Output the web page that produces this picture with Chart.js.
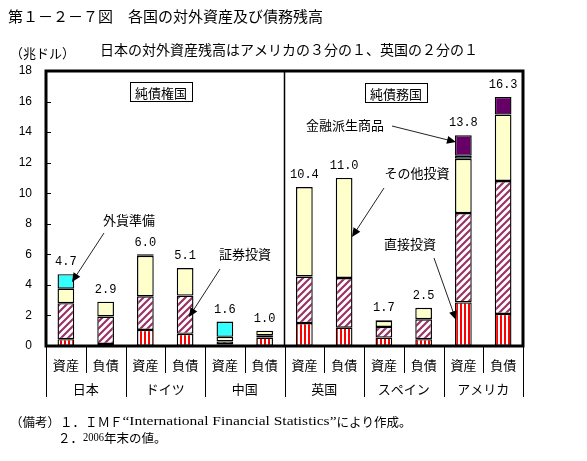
<!DOCTYPE html>
<html>
<head>
<meta charset="utf-8">
<script src="https://cdn.jsdelivr.net/npm/chart.js@4.4.1/dist/chart.umd.min.js"></script>
<style>
  body { margin: 0; background: #fff; }
</style>
</head>
<body>
<canvas id="myChart" width="587" height="461"></canvas>
<script>
// 12 bars: asset / liability for each country
const bars = ['資産', '負債', '資産', '負債', '資産', '負債', '資産', '負債', '資産', '負債', '資産', '負債'];
const countries = ['日本', 'ドイツ', '中国', '英国', 'スペイン', 'アメリカ'];
const totals = ['4.7', '2.9', '6.0', '5.1', '1.6', '1.0', '10.4', '11.0', '1.7', '2.5', '13.8', '16.3'];
const totalValues = [4.7, 2.9, 6.0, 5.1, 1.6, 1.0, 10.4, 11.0, 1.7, 2.5, 13.8, 16.3];

// trillion dollars, stacked from bottom
const direct      = [0.45, 0.13, 1.05, 0.8, 0.1, 0.55, 1.5, 1.2, 0.55, 0.45, 2.85, 2.1];
const portfolio   = [2.35, 1.8, 2.2, 2.5, 0.2, 0.15, 3.05, 3.25, 0.7, 1.3, 5.85, 8.7];
const other       = [0.95, 0.97, 2.65, 1.8, 0.3, 0.3, 5.85, 6.55, 0.4, 0.75, 3.55, 4.35];
const reserves    = [0.95, null, 0.1, null, 1.0, null, null, null, 0.05, null, 0.2, null];
const derivatives = [null, null, null, null, null, null, null, null, null, null, 1.35, 1.15];

const yTicks = [0, 2, 4, 6, 8, 10, 12, 14, 16, 18];

const JP = '"Noto Sans CJK JP", sans-serif';
const MONO = '"Liberation Mono", monospace';
const SERIF = '"Liberation Serif", serif';

function stripePattern() {
  const c = document.createElement('canvas');
  c.width = 4; c.height = 4;
  const g = c.getContext('2d');
  g.fillStyle = '#fff';
  g.fillRect(0, 0, 4, 4);
  g.fillStyle = '#ff0000';
  g.fillRect(0, 0, 2, 4);
  return g.createPattern(c, 'repeat');
}

function hatchPattern() {
  const c = document.createElement('canvas');
  c.width = 7; c.height = 7;
  const g = c.getContext('2d');
  g.fillStyle = '#fff';
  g.fillRect(0, 0, 7, 7);
  g.strokeStyle = '#993366';
  g.lineWidth = 2.2;
  g.beginPath();
  g.moveTo(-1, 8); g.lineTo(8, -1);
  g.moveTo(-4, 4); g.lineTo(4, -4);
  g.moveTo(3, 11); g.lineTo(11, 3);
  g.stroke();
  return g.createPattern(c, 'repeat');
}

function arrow(ctx, x1, y1, x2, y2) {
  const a = Math.atan2(y2 - y1, x2 - x1);
  ctx.strokeStyle = '#222';
  ctx.fillStyle = '#000';
  ctx.lineWidth = 1;
  ctx.beginPath();
  ctx.moveTo(x1, y1);
  ctx.lineTo(x2 - 6 * Math.cos(a), y2 - 6 * Math.sin(a));
  ctx.stroke();
  ctx.beginPath();
  ctx.moveTo(x2, y2);
  ctx.lineTo(x2 - 9 * Math.cos(a) + 4 * Math.sin(a), y2 - 9 * Math.sin(a) - 4 * Math.cos(a));
  ctx.lineTo(x2 - 9 * Math.cos(a) - 4 * Math.sin(a), y2 - 9 * Math.sin(a) + 4 * Math.cos(a));
  ctx.closePath();
  ctx.fill();
}

function boxLabel(ctx, text, cx, cy) {
  ctx.font = '13px ' + JP;
  const w = ctx.measureText(text).width + 10;
  ctx.fillStyle = '#fff';
  ctx.fillRect(cx - w / 2, cy - 10, w, 20);
  ctx.strokeStyle = '#000';
  ctx.lineWidth = 1;
  ctx.strokeRect(Math.round(cx - w / 2) + 0.5, cy - 9.5, Math.round(w), 19);
  ctx.fillStyle = '#000';
  ctx.fillText(text, cx, cy + 1);
}

// writes pieces one after another, each in its own font (optionally stretched to a width)
function textRun(ctx, parts, x, y) {
  parts.forEach(([s, f, fitW]) => {
    ctx.font = f;
    const w = ctx.measureText(s).width;
    if (fitW) {
      ctx.save();
      ctx.translate(x, y);
      ctx.scale(fitW / w, 1);
      ctx.fillText(s, 0, 0);
      ctx.restore();
      x += fitW;
    } else {
      ctx.fillText(s, x, y);
      x += w;
    }
  });
}

const decorations = {
  id: 'decorations',
  afterDraw(chart) {
    const ctx = chart.ctx;
    const area = chart.chartArea;
    const x = chart.scales.x;
    const y = chart.scales.y;
    const catW = (area.right - area.left) / bars.length;
    ctx.save();
    ctx.textAlign = 'center';
    ctx.textBaseline = 'middle';

    // frame and divider between creditor / debtor countries
    ctx.strokeStyle = '#000';
    ctx.lineWidth = 3;
    ctx.strokeRect(area.left, area.top, area.right - area.left, area.bottom - area.top);
    ctx.lineWidth = 1.5;
    ctx.beginPath();
    ctx.moveTo(area.left + catW * 6, area.top);
    ctx.lineTo(area.left + catW * 6, area.bottom);
    ctx.stroke();

    // inner tick marks
    ctx.lineWidth = 1;
    yTicks.forEach(t => {
      const py = Math.round(y.getPixelForValue(t)) + 0.5;
      ctx.beginPath();
      ctx.moveTo(area.left, py);
      ctx.lineTo(area.left + 5, py);
      ctx.stroke();
    });

    // x axis labels and separators
    for (let k = 0; k <= bars.length; k++) {
      const px = Math.round(area.left + catW * k) + 0.5;
      ctx.beginPath();
      ctx.moveTo(px, area.bottom);
      ctx.lineTo(px, k % 2 === 0 ? 397 : 373);
      ctx.stroke();
    }
    ctx.fillStyle = '#000';
    ctx.font = '13px ' + JP;
    bars.forEach((b, i) => ctx.fillText(b, x.getPixelForValue(i), 365));
    countries.forEach((c, i) => ctx.fillText(c, area.left + catW * (2 * i + 1), 389));

    // totals above bars
    ctx.font = '12px ' + MONO;
    totals.forEach((t, i) => ctx.fillText(t, x.getPixelForValue(i), y.getPixelForValue(totalValues[i]) - 12));

    // annotations
    boxLabel(ctx, '純債権国', 161, 92);
    boxLabel(ctx, '純債務国', 396, 93);
    ctx.font = '13px ' + JP;
    ctx.fillStyle = '#000';
    ctx.fillText('外貨準備', 129, 220);
    ctx.fillText('証券投資', 245, 254);
    ctx.fillText('金融派生商品', 345, 125);
    ctx.fillText('その他投資', 417, 173);
    ctx.fillText('直接投資', 410, 244);
    arrow(ctx, 104, 233, 72, 282);
    arrow(ctx, 220, 269, 189, 317);
    arrow(ctx, 392, 126, 456, 142);
    arrow(ctx, 384, 188, 352, 237);
    arrow(ctx, 434, 258, 456, 320);

    // titles and notes
    ctx.textAlign = 'left';
    ctx.fillStyle = '#000';
    ctx.font = '15px ' + JP;
    ctx.fillText('第１－２－７図　各国の対外資産及び債務残高', 8, 16);
    ctx.font = '14px ' + JP;
    ctx.fillText('日本の対外資産残高はアメリカの３分の１、英国の２分の１', 100, 50);
    ctx.font = '13px ' + JP;
    ctx.fillText('（兆ドル）', 10, 53);
    textRun(ctx, [
      ['（備考）１．ＩＭＦ', '12.5px ' + JP],
      ['“International Financial Statistics”', '13px ' + SERIF, 214],
      ['により作成。', '12.5px ' + JP]
    ], 10, 422);
    textRun(ctx, [
      ['２．', '12.5px ' + JP],
      ['2006', '12px ' + SERIF, 21],
      ['年末の値。', '12.5px ' + JP]
    ], 58, 438);
    ctx.restore();
  }
};

const common = { borderColor: '#000', borderWidth: 1.4, borderSkipped: false, barPercentage: 0.42, categoryPercentage: 1 };

const chart = new Chart(document.getElementById('myChart'), {
  type: 'bar',
  data: {
    labels: bars,
    datasets: [
      { label: '直接投資', data: direct, backgroundColor: stripePattern(), ...common },
      { label: '証券投資', data: portfolio, backgroundColor: hatchPattern(), ...common },
      { label: 'その他投資', data: other, backgroundColor: '#ffffcc', ...common },
      { label: '外貨準備', data: reserves, backgroundColor: '#33ffff', ...common },
      { label: '金融派生商品', data: derivatives, backgroundColor: '#660066', ...common }
    ]
  },
  options: {
    responsive: false,
    animation: false,
    layout: { padding: { top: 71, right: 64, bottom: 115, left: 0 } },
    plugins: { legend: { display: false }, tooltip: { enabled: false } },
    scales: {
      x: { stacked: true, display: false },
      y: {
        stacked: true,
        min: 0,
        max: 18,
        afterFit: scale => { scale.width = 46; },
        afterBuildTicks: scale => { scale.ticks = yTicks.map(v => ({ value: v })); },
        grid: { display: false, drawTicks: false },
        border: { display: false },
        ticks: { color: '#000', padding: 14, font: { size: 12, family: '"Liberation Sans", sans-serif' } }
      }
    }
  },
  plugins: [decorations]
});
</script>
</body>
</html>
